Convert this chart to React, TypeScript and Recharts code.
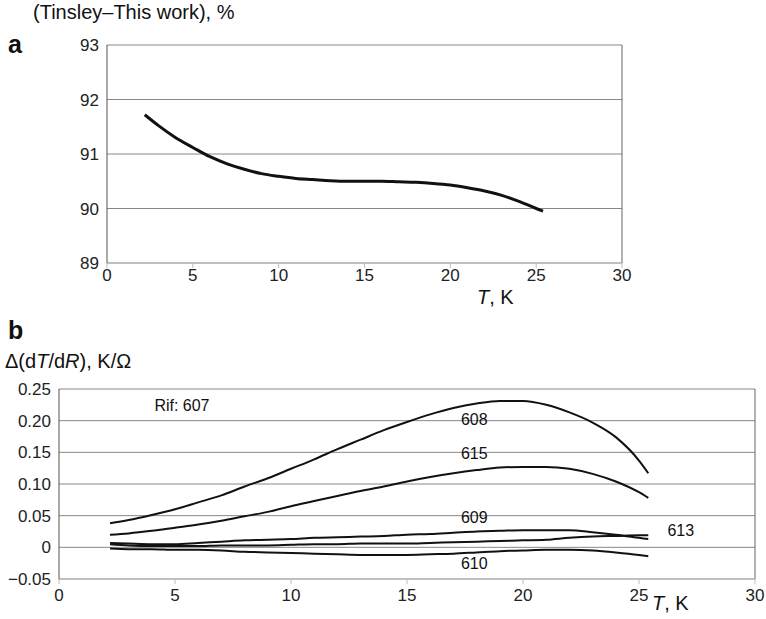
import {
  CartesianGrid,
  Line,
  LineChart,
  ReferenceDot,
  ReferenceLine,
  XAxis,
  YAxis,
} from "recharts";

// panel a
const tempA = [2.2, 3, 4, 5, 6, 7, 8, 9, 10, 11, 12, 13, 14, 15, 16, 17, 18, 19, 20, 21, 22, 23, 24, 25, 25.4];
const ratioA = [
  91.72, 91.52, 91.3, 91.12, 90.95, 90.82, 90.72, 90.64, 90.59, 90.55, 90.53, 90.51, 90.5,
  90.5, 90.5, 90.49, 90.48, 90.46, 90.43, 90.38, 90.32, 90.24, 90.13, 90.0, 89.95,
];
const xTicks = [0, 5, 10, 15, 20, 25, 30];
const yTicksA = [89, 90, 91, 92, 93];

// panel b
const tempB = [2.2, 3, 4, 5, 6, 7, 8, 9, 10, 11, 12, 13, 14, 15, 16, 17, 18, 19, 20, 21, 22, 23, 24, 25, 25.4];
const s608 = [
  0.038, 0.043, 0.051, 0.06, 0.071, 0.082, 0.096, 0.109, 0.124, 0.139, 0.155, 0.17, 0.185,
  0.198, 0.21, 0.22, 0.227, 0.231, 0.231, 0.225, 0.213, 0.197, 0.174, 0.137, 0.117,
];
const s615 = [
  0.02, 0.022, 0.026, 0.031, 0.036, 0.042, 0.049, 0.056, 0.065, 0.073, 0.081, 0.089, 0.096,
  0.104, 0.111, 0.117, 0.122, 0.126, 0.127, 0.127, 0.124, 0.116, 0.104, 0.087, 0.078,
];
const s609 = [
  0.007, 0.006, 0.005, 0.005, 0.007, 0.009, 0.011, 0.012, 0.013, 0.015, 0.016, 0.017, 0.018,
  0.02, 0.021, 0.023, 0.025, 0.026, 0.027, 0.027, 0.027, 0.024, 0.02, 0.015, 0.013,
];
const s613 = [
  0.005, 0.003, 0.002, 0.002, 0.002, 0.003, 0.003, 0.003, 0.004, 0.005, 0.005, 0.006, 0.006,
  0.006, 0.007, 0.008, 0.009, 0.01, 0.011, 0.012, 0.015, 0.017, 0.018, 0.019, 0.019,
];
const s610 = [
  -0.002, -0.003, -0.003, -0.004, -0.004, -0.005, -0.007, -0.008, -0.009, -0.01, -0.011,
  -0.012, -0.012, -0.012, -0.011, -0.01, -0.008, -0.006, -0.005, -0.004, -0.004, -0.005,
  -0.008, -0.012, -0.014,
];
const yTicksB = [-0.05, 0, 0.05, 0.1, 0.15, 0.2, 0.25];
const yLabelsB = ["\u22120.05", "0", "0.05", "0.10", "0.15", "0.20", "0.25"];

const seriesNames = ["608", "615", "609", "613", "610"];
const seriesLabelPos = [
  { x: 17.9, y: 0.202 },
  { x: 17.9, y: 0.148 },
  { x: 17.9, y: 0.047 },
  { x: 26.8, y: 0.027 },
  { x: 17.9, y: -0.025 },
];

const dataA = tempA.map((t, i) => ({ t, v: ratioA[i] }));
const dataB = tempB.map((t, i) => ({
  t,
  s608: s608[i],
  s615: s615[i],
  s609: s609[i],
  s613: s613[i],
  s610: s610[i],
}));

const font = "'Liberation Sans', Arial, sans-serif";
const tickStyle = { fill: "#222", fontSize: 17, fontFamily: font };

const App = () => {
  return (
    <div
      style={{
        position: "absolute",
        left: 0,
        top: 0,
        width: 766,
        height: 619,
        background: "#fff",
        fontFamily: font,
        color: "#111",
      }}
    >
      <div style={{ position: "absolute", left: 33, top: 1, fontSize: 20 }}>
        (Tinsley–This work), %
      </div>
      <div style={{ position: "absolute", left: 8, top: 30, fontSize: 25, fontWeight: "bold" }}>a</div>
      <div style={{ position: "absolute", left: 477, top: 286, fontSize: 20 }}>
        <i>T</i>, K
      </div>

      <div style={{ position: "absolute", left: 0, top: 0 }}>
        <LineChart width={766} height={300} data={dataA} margin={{ top: 45, right: 144, left: 0, bottom: 0 }}>
          <CartesianGrid vertical={false} stroke="#888" />
          <XAxis
            dataKey="t"
            type="number"
            domain={[0, 30]}
            ticks={xTicks}
            height={37}
            stroke="#bbb"
            tickSize={5}
            tickMargin={1}
            tick={tickStyle}
          />
          <YAxis
            type="number"
            domain={[89, 93]}
            ticks={yTicksA}
            width={107}
            stroke="#555"
            tickLine={false}
            tick={tickStyle}
          />
          <ReferenceLine x={30} stroke="#666" />
          <Line
            dataKey="v"
            type="monotone"
            stroke="#111"
            strokeWidth={3}
            dot={false}
            isAnimationActive={false}
          />
        </LineChart>
      </div>

      <div style={{ position: "absolute", left: 8, top: 316, fontSize: 25, fontWeight: "bold" }}>b</div>
      <div style={{ position: "absolute", left: 5, top: 350, fontSize: 20 }}>
        Δ(d<i>T</i>/d<i>R</i>), K/Ω
      </div>
      <div style={{ position: "absolute", left: 652, top: 592, fontSize: 20 }}>
        <i>T</i>, K
      </div>

      <div style={{ position: "absolute", left: 0, top: 300 }}>
        <LineChart width={766} height={319} data={dataB} margin={{ top: 89, right: 11, left: 0, bottom: 0 }}>
          <CartesianGrid vertical={false} stroke="#888" />
          <XAxis
            dataKey="t"
            type="number"
            domain={[0, 30]}
            ticks={xTicks}
            height={40}
            stroke="#bbb"
            tickSize={5}
            tickMargin={5}
            tick={tickStyle}
          />
          <YAxis
            type="number"
            domain={[-0.05, 0.25]}
            ticks={yTicksB}
            width={59}
            stroke="#555"
            tickLine={false}
            tick={tickStyle}
            tickFormatter={(v: number) => yLabelsB[yTicksB.findIndex((t) => Math.abs(t - v) < 1e-9)] ?? String(v)}
          />
          <ReferenceLine x={30} stroke="#666" />
          {["s608", "s615", "s609", "s613", "s610"].map((k) => (
            <Line
              key={k}
              dataKey={k}
              type="monotone"
              stroke="#111"
              strokeWidth={2}
              dot={false}
              isAnimationActive={false}
            />
          ))}
          <ReferenceDot
            x={5.3}
            y={0.224}
            r={0}
            stroke="none"
            label={{ value: "Rif: 607", position: "center", fill: "#111", fontSize: 16, fontFamily: font }}
          />
          {seriesNames.map((n, i) => (
            <ReferenceDot
              key={n}
              x={seriesLabelPos[i].x}
              y={seriesLabelPos[i].y}
              r={0}
              stroke="none"
              label={{ value: n, position: "center", fill: "#111", fontSize: 16, fontFamily: font }}
            />
          ))}
        </LineChart>
      </div>
    </div>
  );
};

export default App;
